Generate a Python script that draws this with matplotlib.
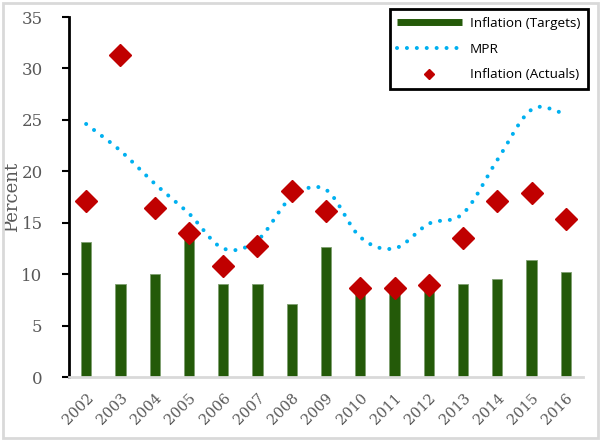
import numpy as np
import matplotlib.pyplot as plt
from matplotlib.patches import Rectangle
from matplotlib.lines import Line2D

### DATA
years = ['2002', '2003', '2004', '2005', '2006', '2007', '2008', '2009',
         '2010', '2011', '2012', '2013', '2014', '2015', '2016']
targets = [13.1, 9.0, 10.0, 13.7, 9.0, 9.0, 7.1, 12.6, 9.2, 8.9, 9.0, 9.0, 9.5, 11.4, 10.2]
mpr = [24.6, 22.0, 18.8, 15.9, 12.5, 13.3, 17.5, 18.2, 13.6, 12.5, 14.9, 15.9, 21.1, 26.0, 25.6]
actuals = [17.1, 31.3, 16.4, 14.0, 10.8, 12.7, 18.1, 16.1, 8.7, 8.7, 8.9, 13.5, 17.1, 17.9, 15.4]

green = '#245A09'
blue = '#00B0F0'
red = '#C00000'
grey = '#595959'
dots = (0, (0.01, 2.45))


def smooth(x, y, n=20):
    # Catmull-Rom style smoothing between the yearly points
    x = np.asarray(x, float)
    y = np.asarray(y, float)
    px = np.concatenate([[2 * x[0] - x[1]], x, [2 * x[-1] - x[-2]]])
    py = np.concatenate([[2 * y[0] - y[1]], y, [2 * y[-1] - y[-2]]])
    xs, ys = [], []
    for i in range(1, len(px) - 2):
        t = np.linspace(0, 1, n, endpoint=False)
        for p, out in ((px, xs), (py, ys)):
            p0, p1, p2, p3 = p[i - 1], p[i], p[i + 1], p[i + 2]
            out.extend(0.5 * ((2 * p1) + (-p0 + p2) * t
                              + (2 * p0 - 5 * p1 + 4 * p2 - p3) * t ** 2
                              + (-p0 + 3 * p1 - 3 * p2 + p3) * t ** 3))
    xs.append(x[-1])
    ys.append(y[-1])
    return np.array(xs), np.array(ys)


fig = plt.figure(figsize=(6.01, 4.41), dpi=100)
ax = fig.add_axes([69 / 601, 1 - 377 / 441, 514 / 601, 360 / 441])

# outer chart border
fig.patches.append(Rectangle((3 / 601, 3 / 441), 595 / 601, 435 / 441,
                             transform=fig.transFigure, fill=False,
                             edgecolor='#D9D9D9', linewidth=2))

x = np.arange(len(years))
ax.bar(x, targets, width=0.3, color=green, edgecolor='#7FA070', linewidth=0.6, zorder=2)
sx, sy = smooth(x, mpr)
ax.plot(sx, sy, color=blue, linestyle=dots, linewidth=2.9,
        dash_capstyle='round', zorder=3)
ax.plot(x, actuals, linestyle='none', marker='D', markersize=11, color=red, zorder=4)

ax.set_xlim(-0.5, len(years) - 0.5)
ax.set_ylim(0, 35)
ax.set_yticks(range(0, 36, 5))
ax.set_xticks(x)
ax.set_xticklabels(years, rotation=45, ha='right', rotation_mode='anchor')

for lab in ax.get_yticklabels():
    lab.set_family('DejaVu Serif')
    lab.set_color(grey)
    lab.set_fontsize(12)
for lab in ax.get_xticklabels():
    lab.set_family('DejaVu Serif')
    lab.set_color(grey)
    lab.set_fontsize(10.5)
ax.tick_params(axis='x', length=0, pad=10)
ax.tick_params(axis='y', direction='out', length=5, width=1.5, color='black', pad=14)

ax.spines['top'].set_visible(False)
ax.spines['right'].set_visible(False)
ax.spines['left'].set_linewidth(2)
ax.spines['bottom'].set_color('#D9D9D9')
ax.spines['bottom'].set_linewidth(2)

ax.set_ylabel('Percent', family='DejaVu Serif', color=grey, fontsize=13, labelpad=0)

handles = [
    Line2D([], [], color=green, linewidth=5, solid_capstyle='butt'),
    Line2D([], [], color=blue, linestyle=dots, linewidth=2.9, dash_capstyle='round'),
    Line2D([], [], color=red, linestyle='none', marker='D', markersize=5),
]
labels = ['Inflation (Targets)', 'MPR', 'Inflation (Actuals)']
leg = ax.legend(handles, labels, loc='upper right', bbox_to_anchor=(1.022, 1.04),
                fancybox=False, edgecolor='black', framealpha=1,
                prop={'family': 'Open Sans', 'size': 9.7},
                handlelength=4.8, handletextpad=0.6, borderpad=0.55, labelspacing=0.95)
leg.get_frame().set_linewidth(2)

fig.savefig('out.png', dpi=100)
